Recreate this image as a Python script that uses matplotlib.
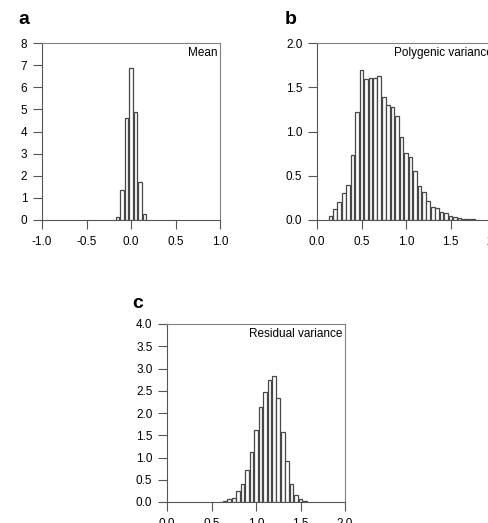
import matplotlib
matplotlib.use("Agg")
import matplotlib.pyplot as plt
from matplotlib.ticker import FormatStrFormatter

plt.rcParams["font.family"] = ["Liberation Sans", "DejaVu Sans"]

# ── Data (posterior density histograms, bin width 0.05) ──
BIN = 0.05

mean_x = [-0.15, -0.10, -0.05, 0.00, 0.05, 0.10, 0.15]
mean_h = [0.15, 1.35, 4.6, 6.85, 4.9, 1.7, 0.25]

poly_x = [0.15, 0.20, 0.25, 0.30, 0.35, 0.40, 0.45, 0.50, 0.55, 0.60,
          0.65, 0.70, 0.75, 0.80, 0.85, 0.90, 0.95, 1.00, 1.05, 1.10,
          1.15, 1.20, 1.25, 1.30, 1.35, 1.40, 1.45, 1.50, 1.55, 1.60,
          1.65, 1.70, 1.75, 1.80]
poly_h = [0.05, 0.12, 0.20, 0.30, 0.40, 0.74, 1.22, 1.70, 1.59, 1.60,
          1.61, 1.63, 1.39, 1.30, 1.28, 1.17, 0.94, 0.76, 0.71, 0.55,
          0.38, 0.32, 0.21, 0.15, 0.13, 0.095, 0.075, 0.04, 0.03, 0.02,
          0.015, 0.01, 0.008, 0.005]

resid_x = [0.60, 0.65, 0.70, 0.75, 0.80, 0.85, 0.90, 0.95, 1.00, 1.05,
           1.10, 1.15, 1.20, 1.25, 1.30, 1.35, 1.40, 1.45, 1.50, 1.55]
resid_h = [0.01, 0.03, 0.06, 0.10, 0.24, 0.40, 0.73, 1.12, 1.62, 2.13,
           2.48, 2.74, 2.83, 2.33, 1.57, 0.93, 0.40, 0.16, 0.06, 0.02]

W, H = 488, 523


def px_rect(left, top, right, bottom):
    # pixel box (from top-left) -> figure fraction rect
    return [left / W, (H - bottom) / H, (right - left) / W, (bottom - top) / H]


panels = [
    # letter, letter pos (px), title, x, h, xlim, xticks, ylim, yticks, yfmt, box
    ("a", (24, 19), "Mean", mean_x, mean_h, (-1, 1),
     [-1.0, -0.5, 0.0, 0.5, 1.0], (0, 8), list(range(0, 9)), "%d",
     px_rect(42, 43, 220, 220)),
    ("b", (291, 19), "Polygenic variance", poly_x, poly_h, (0, 2),
     [0.0, 0.5, 1.0, 1.5, 2.0], (0, 2), [0.0, 0.5, 1.0, 1.5, 2.0], "%.1f",
     px_rect(317, 43, 495, 220)),
    ("c", (138, 303), "Residual variance", resid_x, resid_h, (0, 2),
     [0.0, 0.5, 1.0, 1.5, 2.0], (0, 4),
     [0.0, 0.5, 1.0, 1.5, 2.0, 2.5, 3.0, 3.5, 4.0], "%.1f",
     px_rect(167, 324, 345, 502)),
]

fig = plt.figure(figsize=(W / 100, H / 100), dpi=100)

for letter, lpos, title, xs, hs, xlim, xticks, ylim, yticks, yfmt, rect in panels:
    ax = fig.add_axes(rect)
    ax.bar(xs, hs, width=BIN * 0.82, color="white", edgecolor="#474747",
           linewidth=0.9, zorder=3)
    ax.set_xlim(*xlim)
    ax.set_ylim(*ylim)
    ax.set_xticks(xticks)
    ax.set_yticks(yticks)
    ax.xaxis.set_major_formatter(FormatStrFormatter("%.1f"))
    ax.yaxis.set_major_formatter(FormatStrFormatter(yfmt))
    ax.tick_params(direction="out", length=6.5, width=0.8, labelsize=8.5,
                   color="#555555", top=False, right=False)
    ax.tick_params(axis="y", pad=4)
    ax.tick_params(axis="x", pad=5)
    for s in ax.spines.values():
        s.set_color("#808080")
        s.set_linewidth(0.8)
    ax.spines["left"].set_color("#555555")
    ax.spines["bottom"].set_color("#555555")
    ax.text(0.985, 0.975, title, transform=ax.transAxes, ha="right",
            va="top", fontsize=8.5)
    fig.text(lpos[0] / W, 1 - lpos[1] / H, letter, ha="center",
             va="center", fontsize=14, fontweight="bold")

fig.savefig("out.png", dpi=100)
